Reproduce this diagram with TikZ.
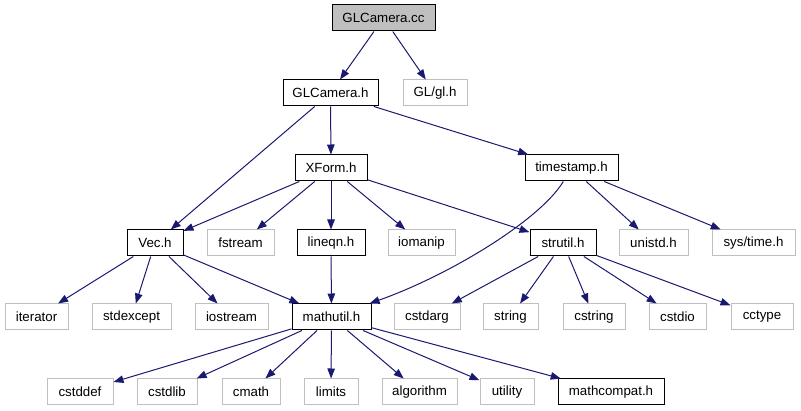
\documentclass[tikz,border=0pt]{standalone}
\usepackage{fontspec}
\setmainfont{Liberation Sans}
\usetikzlibrary{arrows.meta}
\definecolor{edgeblue}{RGB}{25,25,112}
\definecolor{extgray}{RGB}{191,191,191}

\begin{document}
\begin{tikzpicture}[x=1pt, y=-1pt,
  file/.style={draw=black, line width=1pt, minimum height=26pt, inner sep=0pt,
    font=\fontsize{13.3}{16}\selectfont},
  ext/.style={file, draw=extgray},
  root/.style={file, fill=extgray},
  edge/.style={draw=edgeblue, line width=1pt, -{Triangle[length=10pt,width=7.5pt]}}]
  \useasboundingbox (0,0) rectangle (801,411);
  % top
  \node[root, minimum width=103pt] (cc) at (383.5,18) {GLCamera.cc};
  \node[file, minimum width=95pt] (glcamh) at (330.5,93) {GLCamera.h};
  \node[ext, minimum width=64pt] (glh) at (435,93) {GL/gl.h};
  \node[file, minimum width=72pt] (xformh) at (331,168) {XForm.h};
  \node[file, minimum width=93pt] (tstamph) at (571.5,168) {timestamp.h};
  % middle row
  \node[file, minimum width=56pt] (vech) at (155,243) {Vec.h};
  \node[ext, minimum width=67pt] (fstream) at (240.5,243) {fstream};
  \node[file, minimum width=68pt] (lineqnh) at (331,243) {lineqn.h};
  \node[ext, minimum width=67pt] (iomanip) at (421.5,243) {iomanip};
  \node[file, minimum width=66pt] (strutilh) at (563,243) {strutil.h};
  \node[ext, minimum width=69pt] (unistdh) at (653.5,243) {unistd.h};
  \node[ext, minimum width=83pt] (systimeh) at (753.5,243) {sys/time.h};
  % lower row
  \node[ext, minimum width=63pt] (iterator) at (36.5,317) {iterator};
  \node[ext, minimum width=79pt] (stdexcept) at (131.5,317) {stdexcept};
  \node[ext, minimum width=73pt] (iostream) at (231.5,317) {iostream};
  \node[file, minimum width=79pt] (mathutilh) at (331.5,317) {mathutil.h};
  \node[ext, minimum width=66pt] (cstdarg) at (427,317) {cstdarg};
  \node[ext, minimum width=55pt] (string) at (510.5,317) {string};
  \node[ext, minimum width=62pt] (cstring) at (594,317) {cstring};
  \node[ext, minimum width=57pt] (cstdio) at (677.5,317) {cstdio};
  \node[ext, minimum width=62pt] (cctype) at (762,317) {cctype};
  % bottom row
  \node[ext, minimum width=66pt] (cstddef) at (80,392) {cstddef};
  \node[ext, minimum width=60pt] (cstdlib) at (167,392) {cstdlib};
  \node[ext, minimum width=58pt] (cmath) at (251,392) {cmath};
  \node[ext, minimum width=54pt] (limits) at (331,392) {limits};
  \node[ext, minimum width=75pt] (algorithm) at (419.5,392) {algorithm};
  \node[ext, minimum width=54pt] (utility) at (507,392) {utility};
  \node[file, minimum width=106pt] (mathcompath) at (611,392) {mathcompat.h};
  % includes
  \foreach \src/\dst in {cc/glcamh, cc/glh,
      glcamh/vech, glcamh/xformh, glcamh/tstamph,
      xformh/vech, xformh/fstream, xformh/lineqnh, xformh/iomanip, xformh/strutilh,
      tstamph/unistdh, tstamph/systimeh,
      vech/iterator, vech/stdexcept, vech/iostream, vech/mathutilh,
      lineqnh/mathutilh,
      strutilh/cstdarg, strutilh/string, strutilh/cstring, strutilh/cstdio, strutilh/cctype,
      mathutilh/cstddef, mathutilh/cstdlib, mathutilh/cmath, mathutilh/limits,
      mathutilh/algorithm, mathutilh/utility, mathutilh/mathcompath}
    \draw[edge] (\src) -- (\dst);
  \draw[edge] (tstamph) .. controls (540,220) and (450,275) .. (mathutilh);
\end{tikzpicture}
\end{document}
